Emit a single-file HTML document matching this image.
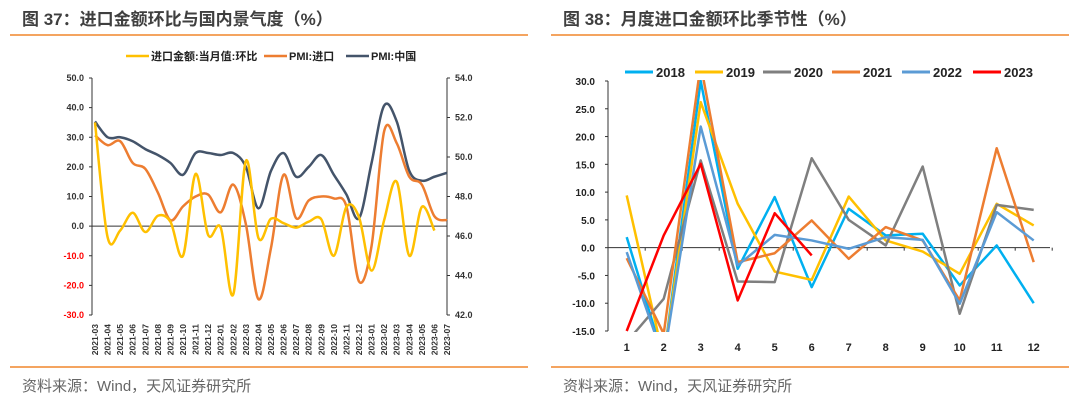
<!DOCTYPE html>
<html><head><meta charset="utf-8">
<style>
html,body{margin:0;padding:0;background:#fff;}
body{width:1080px;height:401px;position:relative;overflow:hidden;font-family:"Liberation Sans","Noto Sans CJK SC",sans-serif;}
.title{position:absolute;top:5px;font-size:17px;font-weight:bold;color:#3f3f3f;font-family:"Liberation Sans","Noto Sans CJK SC",sans-serif;}
.rule{position:absolute;height:2px;background:#F4A460;}
.src{position:absolute;top:375px;font-size:15px;color:#666;}
svg{position:absolute;left:0;top:0;}
svg text{font-family:"Liberation Sans","Noto Sans CJK SC",sans-serif;}
</style></head><body>
<div class="title" style="left:22px">图 37：进口金额环比与国内景气度（%）</div>
<div class="title" style="left:563px">图 38：月度进口金额环比季节性（%）</div>
<div class="rule" style="left:10px;width:518px;top:34px"></div>
<div class="rule" style="left:551px;width:518px;top:34px"></div>
<div class="rule" style="left:10px;width:518px;top:366px"></div>
<div class="rule" style="left:551px;width:518px;top:366px"></div>
<div class="src" style="left:22px">资料来源：Wind，天风证券研究所</div>
<div class="src" style="left:563px">资料来源：Wind，天风证券研究所</div>
<svg id="chart" width="1080" height="401"></svg>
<script>
// ---- Left chart data ----
const leftCategories = ["2021-03","2021-04","2021-05","2021-06","2021-07","2021-08","2021-09","2021-10","2021-11","2021-12","2022-01","2022-02","2022-03","2022-04","2022-05","2022-06","2022-07","2022-08","2022-09","2022-10","2022-11","2022-12","2023-01","2023-02","2023-03","2023-04","2023-05","2023-06","2023-07"];
const importMoM = [35,-3.7,-1.5,4.5,-2,3.5,1.5,-10,17.6,-3,-0.5,-23,22,-4,2.5,1,-0.5,1.5,2.3,-10,6.5,3,-15,2,15,-10,6.5,-1.5,null];
const pmiImport = [51.1,50.6,50.8,49.7,49.4,48.2,46.8,47.5,48.0,48.1,47.2,48.6,46.6,42.8,45.4,49.1,46.9,47.8,48.0,47.9,47.5,43.7,45.5,51.3,50.7,49.0,48.6,47.0,46.8];
const pmiChina = [51.8,51.0,51.0,50.8,50.4,50.1,49.7,49.1,50.2,50.2,50.1,50.2,49.5,47.4,49.3,50.2,49.0,49.5,50.1,49.1,48.1,46.9,49.7,52.6,51.8,49.3,48.8,49.0,49.2];
const leftTicks = ["50.0","40.0","30.0","20.0","10.0","0.0","-10.0","-20.0","-30.0"];
const rightTicks = ["54.0","52.0","50.0","48.0","46.0","44.0","42.0"];
// ---- Right chart data ----
const months = ["1","2","3","4","5","6","7","8","9","10","11","12"];
const years = ["2018","2019","2020","2021","2022","2023"];
const s2018 = [1.9,-20,30,-3.8,9.1,-7.1,7,2.2,2.5,-6.8,0.4,-10];
const s2019 = [9.4,-20,26.2,7.9,-4.3,-5.8,9.2,1.3,-0.7,-4.7,7.9,4];
const s2020 = [-17,-9.2,15.7,-6.1,-6.2,16.1,5,0.4,14.6,-11.9,7.7,6.8];
const s2021 = [-1.9,-15.5,33,-2.6,-1,4.9,-2,3.7,1.3,-9.5,17.9,-2.6];
const s2022 = [-0.8,-20,21.8,-3.2,2.3,1.3,-0.2,1.9,1.4,-10.1,6.4,1.3];
const s2023 = [-15,2.2,15.1,-9.5,6.2,-1.4];
const mTicks = ["30.0","25.0","20.0","15.0","10.0","5.0","0.0","-5.0","-10.0","-15.0"];

const NS="http://www.w3.org/2000/svg";
const svg=document.getElementById('chart');
function mk(tag,attrs,parent){const e=document.createElementNS(NS,tag);for(const k in attrs)e.setAttribute(k,attrs[k]);(parent||svg).appendChild(e);return e;}
function smooth(pts){if(!pts.length)return '';let d='M'+pts[0][0]+','+pts[0][1];for(let i=0;i<pts.length-1;i++){const p0=pts[i-1]||pts[i],p1=pts[i],p2=pts[i+1],p3=pts[i+2]||p2;const c1x=p1[0]+(p2[0]-p0[0])/6,c1y=p1[1]+(p2[1]-p0[1])/6,c2x=p2[0]-(p3[0]-p1[0])/6,c2y=p2[1]-(p3[1]-p1[1])/6;d+=' C'+c1x+','+c1y+' '+c2x+','+c2y+' '+p2[0]+','+p2[1];}return d;}

// ---- Left chart ----
const L={x0:92,x1:447,top:78,bot:315};
const lx=i=>95+i*(L.x1-95)/(leftCategories.length-1);
const ly=v=>L.top+(50-v)/80*(L.bot-L.top);
const ry=v=>L.top+(54-v)/12*(L.bot-L.top);
const g1=mk('g',{});


let a=mk('line',{x1:L.x0,y1:L.top,x2:L.x0,y2:L.bot,stroke:'#333','stroke-width':1},g1);

a=mk('line',{x1:L.x1,y1:L.top,x2:L.x1,y2:L.bot,stroke:'#333','stroke-width':1},g1);

a=mk('line',{x1:L.x0,y1:ly(0),x2:L.x1,y2:ly(0),stroke:'#333','stroke-width':1},g1);

leftTicks.forEach(t=>{const v=parseFloat(t);mk('line',{x1:L.x0-3,y1:ly(v),x2:L.x0,y2:ly(v),stroke:'#333'},g1);
 const e=mk('text',{x:L.x0-8,y:ly(v)+3,'text-anchor':'end','font-size':9,'font-weight':'bold',fill:v<0?'#ff0000':'#333'},g1);e.textContent=t;
 });
rightTicks.forEach(t=>{const v=parseFloat(t);mk('line',{x1:L.x1,y1:ry(v),x2:L.x1+3,y2:ry(v),stroke:'#333'},g1);
 const e=mk('text',{x:L.x1+8,y:ry(v)+3,'font-size':9,'font-weight':'bold',fill:'#333'},g1);e.textContent=t;
 });
leftCategories.forEach((c,i)=>{const x=lx(i)+3;const e=mk('text',{x:x,y:324,transform:'rotate(-90 '+x+' 324)','text-anchor':'end','font-size':8.5,'font-weight':'bold',fill:'#333'},g1);e.textContent=c;
 });
function lseries(arr,fy,color,name){const pts=[];arr.forEach((v,i)=>{if(v!==null)pts.push([lx(i),fy(v)]);});
 const p=mk('path',{d:smooth(pts),fill:'none',stroke:color,'stroke-width':2.5,'stroke-linejoin':'round'},g1);
 }
lseries(pmiChina,ry,'#44546A','line-pmi-china');
lseries(pmiImport,ry,'#ED7D31','line-pmi-import');
lseries(importMoM,ly,'#FFC000','line-import-mom');
[[126,'#FFC000','进口金额:当月值:环比'],[264,'#ED7D31','PMI:进口'],[346,'#44546A','PMI:中国']].forEach(([x,c,t])=>{
 const ln=mk('line',{x1:x,y1:56,x2:x+23,y2:56,stroke:c,'stroke-width':2.5},g1);
 
 const e=mk('text',{x:x+25,y:60,'font-size':11,'font-weight':'bold',fill:'#222'},g1);e.textContent=t;
 });

// ---- Right chart ----
const R={x0:608,x1:1050,top:81,bot:331};
const mx=i=>626.7+i*37;
const my=v=>R.top+(30-v)/45*(R.bot-R.top);
const g2=mk('g',{});


const defs=mk('defs',{});const cp=mk('clipPath',{id:'rclip'},defs);mk('rect',{x:R.x0,y:R.top-1,width:R.x1-R.x0,height:R.bot-R.top+2},cp);
a=mk('line',{x1:R.x0,y1:R.top,x2:R.x0,y2:R.bot,stroke:'#333'},g2);

a=mk('line',{x1:R.x0,y1:my(0),x2:R.x1,y2:my(0),stroke:'#333'},g2);

mTicks.forEach(t=>{const v=parseFloat(t);mk('line',{x1:R.x0-3,y1:my(v),x2:R.x0,y2:my(v),stroke:'#333'},g2);
 const e=mk('text',{x:595,y:my(v)+4,'text-anchor':'end','font-size':10,'font-weight':'bold',fill:'#222'},g2);e.textContent=t;
 });
months.forEach((m,i)=>{mk('line',{x1:mx(i)+18.5,y1:my(0),x2:mx(i)+18.5,y2:my(0)+3,stroke:'#333'},g2);
 const e=mk('text',{x:mx(i),y:351,'text-anchor':'middle','font-size':11,'font-weight':'bold',fill:'#222'},g2);e.textContent=m;
 });
const ycolors=['#00B0F0','#FFC000','#7F7F7F','#ED7D31','#5B9BD5','#FF0000'];
const yseries=[s2018,s2019,s2020,s2021,s2022,s2023];
const gl=mk('g',{'clip-path':'url(#rclip)'},g2);
yseries.forEach((arr,k)=>{const d=arr.map((v,i)=>(i?'L':'M')+mx(i)+','+my(v)).join(' ');
 const p=mk('path',{d:d,fill:'none',stroke:ycolors[k],'stroke-width':2.5,'stroke-linejoin':'round'},gl);
 });
[625,695,763,832,902,973].forEach((x,k)=>{
 const ln=mk('line',{x1:x,y1:72,x2:x+28,y2:72,stroke:ycolors[k],'stroke-width':3},g2);
 
 const e=mk('text',{x:x+31,y:77,'font-size':13,'font-weight':'bold',fill:'#222'},g2);e.textContent=years[k];
 });
</script>
</body></html>
